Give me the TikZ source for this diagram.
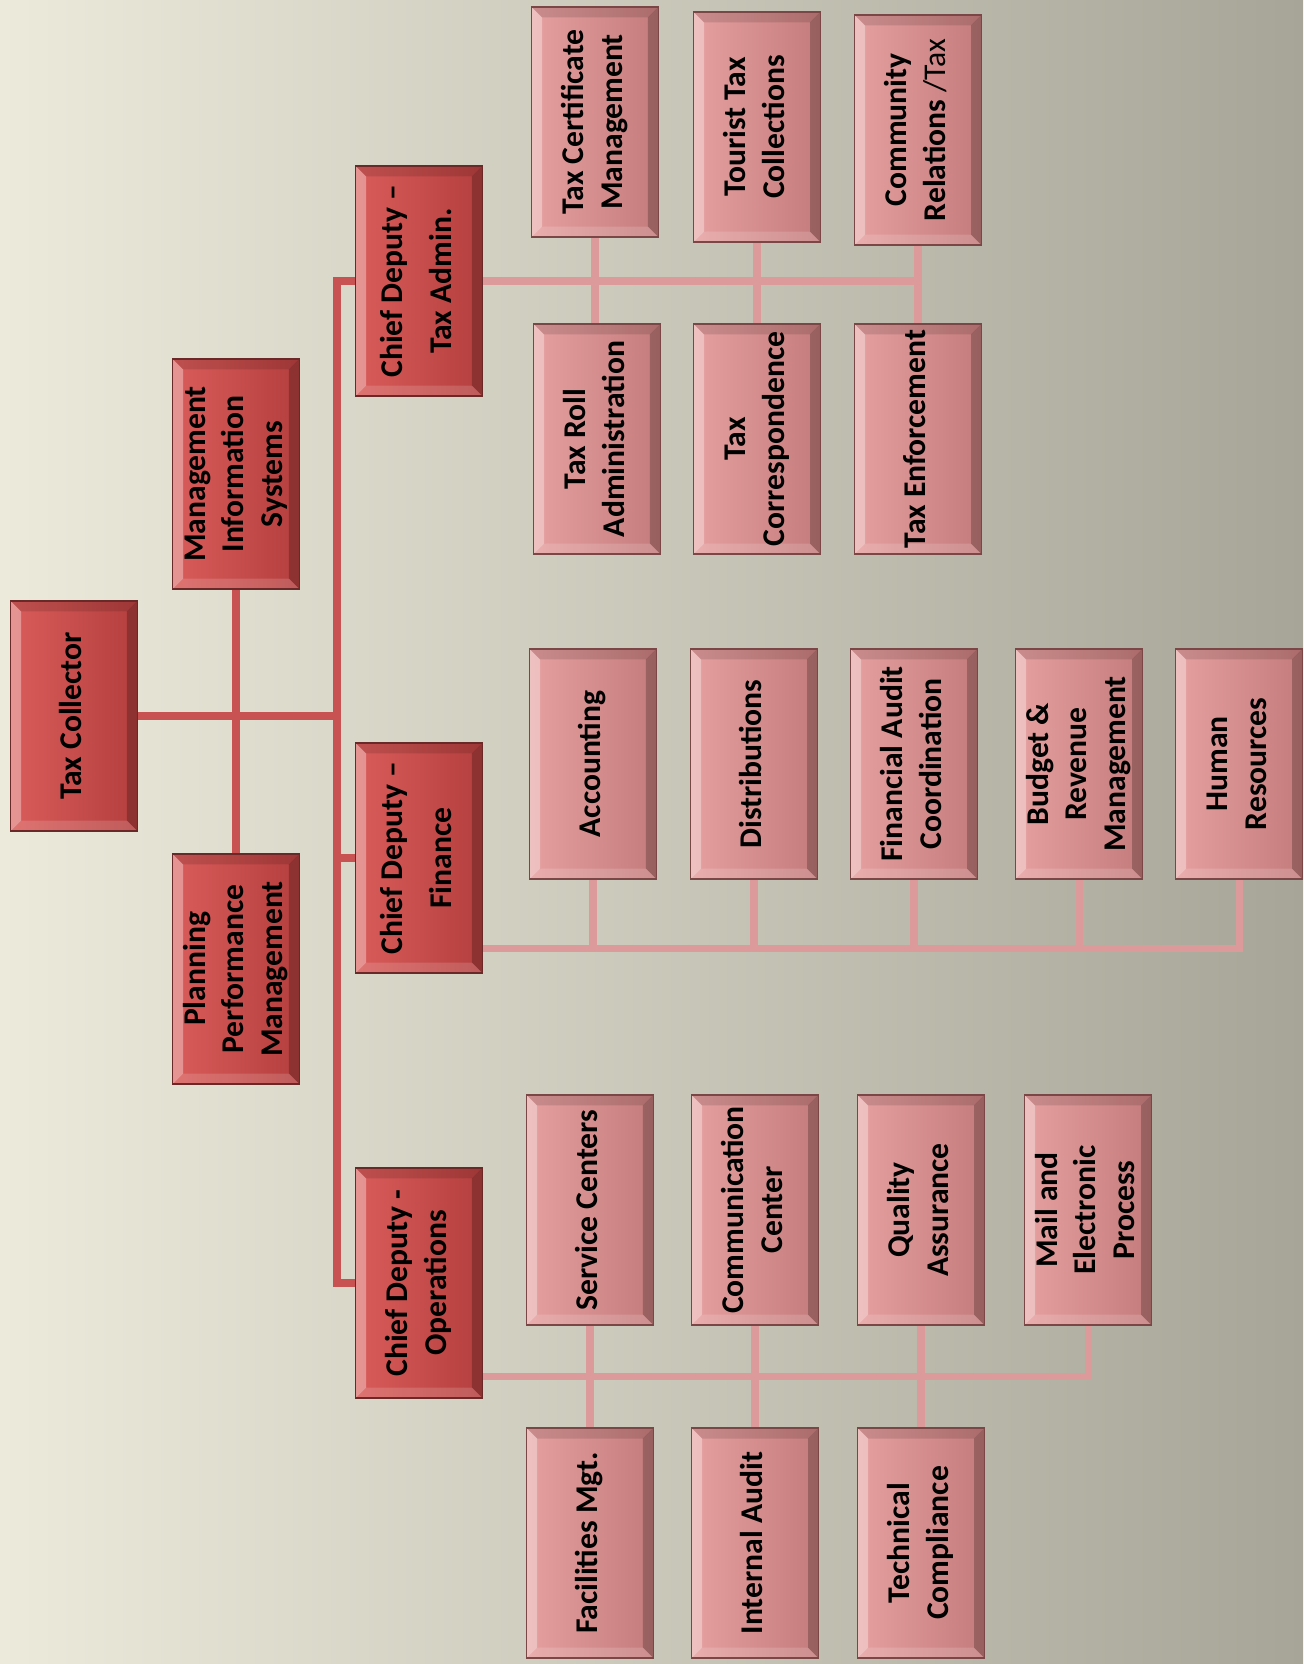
\documentclass[tikz,border=0pt]{standalone}
\usepackage{fontspec}
\setmainfont{Carlito}
\usepackage{graphicx}
\usetikzlibrary{positioning, calc}
\definecolor{bgL}{HTML}{ECEADB}
\definecolor{bgR}{HTML}{A6A597}
\definecolor{headL}{HTML}{D95C5A}
\definecolor{headR}{HTML}{B43F3E}
\definecolor{headD}{HTML}{6A2828}
\definecolor{unitL}{HTML}{E6A0A0}
\definecolor{unitR}{HTML}{C47B7B}
\definecolor{unitD}{HTML}{7A4646}
\definecolor{spineC}{HTML}{C85252}
\definecolor{branchC}{HTML}{DC9A9A}
\newcommand{\vt}[1]{\rotatebox{90}{\begin{tabular}{@{}c@{}}#1\end{tabular}}}
\tikzset{
  bevel/.style={path picture={
    \fill[white, opacity=.35] (path picture bounding box.south west)
      -- (path picture bounding box.north west)
      -- ([shift={(3pt,-3pt)}]path picture bounding box.north west)
      -- ([shift={(3pt,3pt)}]path picture bounding box.south west) -- cycle;
    \fill[black, opacity=.22] (path picture bounding box.south east)
      -- (path picture bounding box.north east)
      -- ([shift={(-3pt,-3pt)}]path picture bounding box.north east)
      -- ([shift={(-3pt,3pt)}]path picture bounding box.south east) -- cycle;
    \fill[black, opacity=.12] (path picture bounding box.north west)
      -- (path picture bounding box.north east)
      -- ([shift={(-3pt,-3pt)}]path picture bounding box.north east)
      -- ([shift={(3pt,-3pt)}]path picture bounding box.north west) -- cycle;
    \fill[white, opacity=.15] (path picture bounding box.south west)
      -- (path picture bounding box.south east)
      -- ([shift={(-3pt,3pt)}]path picture bounding box.south east)
      -- ([shift={(3pt,3pt)}]path picture bounding box.south west) -- cycle;
  }},
  headBox/.style={rectangle, draw=headD, left color=headL, right color=headR,
                  minimum width=1.27cm, minimum height=2.30cm, inner sep=0pt,
                  font=\fontsize{9}{11}\selectfont\bfseries, bevel},
  unitBox/.style={rectangle, draw=unitD, left color=unitL, right color=unitR,
                  minimum width=1.27cm, minimum height=2.30cm, inner sep=0pt,
                  font=\fontsize{9}{11}\selectfont\bfseries, bevel},
  spine/.style={draw=spineC, line width=2pt},
  branch/.style={draw=branchC, line width=2pt},
}
\begin{document}
\begin{tikzpicture}[x=0.01cm, y=-0.01cm]
    \fill[left color=bgL, right color=bgR] (0,0) rectangle (1303,1664);
    \useasboundingbox (0,0) rectangle (1303,1664);
    % top of the chart
    \node[headBox] (tc) at (74,716) {\vt{Tax Collector}};
    \node[headBox] (mis) at (236,474) {\vt{Management\\Information\\Systems}};
    \node[headBox] (ppm) at (236,969) {\vt{Planning\\Performance\\Management}};
    \node[headBox] (cdT) at (419,281) {\vt{Chief Deputy --\\[3pt]Tax Admin.}};
    \node[headBox] (cdF) at (419,858) {\vt{Chief Deputy --\\[3pt]Finance}};
    \node[headBox] (cdO) at (419,1283) {\vt{Chief Deputy -\\Operations}};
    \coordinate (jT) at (337,281);
    \coordinate (jF) at (337,858);
    \coordinate (jO) at (337,1283);
    % tax admin
    \foreach \n/\x/\y/\txt in {tcm/595/122/{Tax Certificate\\Management},
        ttc/757/127/{Tourist Tax\\Collections},
        crt/918/130/{Community\\Relations {\mdseries /Tax}},
        tra/597/439/{Tax Roll\\Administration},
        tco/757/439/{Tax\\Correspondence},
        te/918/439/{Tax Enforcement}}{
      \node[unitBox] (\n) at (\x,\y) {\vt{\txt}};
    }
    % finance
    \foreach \n/\x/\txt in {acc/593/Accounting, dis/754/Distributions,
        fac/914/{Financial Audit\\Coordination},
        brm/1079/{Budget \&\\Revenue\\Management},
        hr/1239/{Human\\Resources}}{
      \node[unitBox] (\n) at (\x,764) {\vt{\txt}};
    }
    % operations
    \foreach \n/\x/\y/\txt in {sc/590/1210/{Service Centers},
        cc/755/1210/{Communication\\Center},
        qa/921/1210/{Quality\\Assurance},
        mep/1088/1210/{Mail and\\Electronic\\Process},
        fm/590/1543/{Facilities Mgt.},
        ia/755/1543/{Internal Audit},
        tcp/921/1543/{Technical\\Compliance}}{
      \node[unitBox] (\n) at (\x,\y) {\vt{\txt}};
    }
    % connectors
    \draw[spine] (tc.east) -- (tc.east -| jT);
    \draw[spine] (mis) -- (ppm);
    \draw[spine] (cdT.west) -- (jT) -- (jO) -- (cdO.west);
    \draw[spine] (jF) -- (cdF.west);
    \draw[branch] (cdT.east) -- (cdT.east -| crt.south);
    \foreach \a/\b in {tcm/tra, ttc/tco, crt/te}
      \draw[branch] (\a.south) -- (\a.south |- \b.north);
    \coordinate (fBar) at ([yshift=-0.9cm]cdF.east);
    \draw[branch] (fBar) -| (hr.south);
    \foreach \n in {acc, dis, fac, brm}
      \draw[branch] (\n.south) -- (\n.south |- fBar);
    \coordinate (oBar) at ([yshift=-0.93cm]cdO.east);
    \draw[branch] (oBar) -| (mep.south);
    \foreach \a/\b in {sc/fm, cc/ia, qa/tcp}
      \draw[branch] (\a.south) -- (\a.south |- \b.north);
\end{tikzpicture}
\end{document}
